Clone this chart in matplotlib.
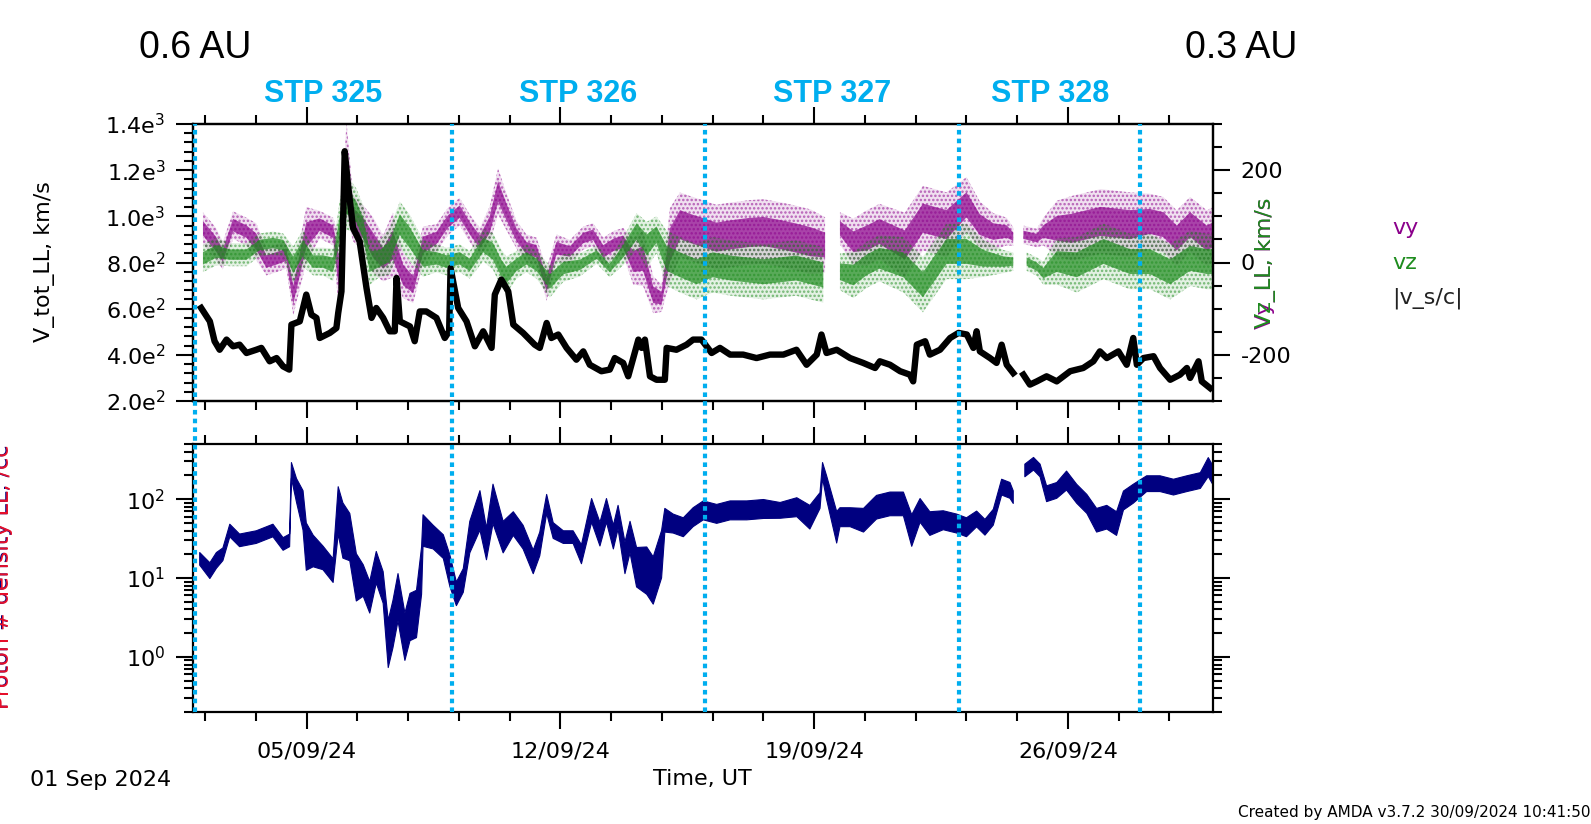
import numpy as np
import matplotlib
matplotlib.use('Agg')
import matplotlib.pyplot as plt
from matplotlib.ticker import FixedLocator, MultipleLocator, FuncFormatter, LogLocator, NullFormatter

# time axis: fractional day of September 2024
t_start, t_stop = 1.865, 30.0
stp_edges = [1.92, 9.0, 16.0, 23.0, 28.0]
stp_names = ['STP 325', 'STP 326', 'STP 327', 'STP 328']
date_ticks = [5, 12, 19, 26]

# |v_s/c| total speed, km/s (left axis)
vtot_day = [2.09, 2.33, 2.46, 2.60, 2.79, 2.97, 3.15, 3.34, 3.61, 3.75, 3.98, 4.17, 4.35, 4.52,
            4.58, 4.81, 4.99, 5.13, 5.27, 5.36, 5.64, 5.82, 5.87, 5.96, 6.05, 6.14, 6.28, 6.46,
            6.65, 6.79, 6.92, 7.11, 7.29, 7.43, 7.48, 7.57, 7.85, 7.98, 8.12, 8.30, 8.58, 8.81,
            8.93, 8.97, 9.18, 9.41, 9.64, 9.87, 10.10, 10.19, 10.37, 10.56, 10.70, 10.97, 11.29,
            11.43, 11.62, 11.75, 11.94, 12.17, 12.44, 12.63, 12.81, 13.13, 13.36, 13.50, 13.73,
            13.87, 14.01, 14.15, 14.24, 14.33, 14.47, 14.65, 14.88, 14.93, 15.20, 15.48, 15.66,
            15.89, 16.17, 16.40, 16.68, 17.04, 17.41, 17.78, 18.15, 18.51, 18.79, 19.07, 19.20,
            19.34, 19.62, 19.99, 20.35, 20.68, 20.81, 21.09, 21.37, 21.64, 21.73, 21.83, 22.06,
            22.19, 22.47, 22.75, 22.98, 23.21, 23.39, 23.48, 23.57, 23.85, 24.03, 24.17, 24.31,
            24.49, 24.60, 24.77, 24.95, 25.14, 25.41, 25.69, 26.06, 26.42, 26.70, 26.88, 27.07,
            27.39, 27.62, 27.80, 27.90, 28.08, 28.36, 28.54, 28.82, 29.09, 29.28, 29.37, 29.60,
            29.69, 29.92]
vtot = [603, 545, 459, 422, 466, 437, 444, 408, 422, 430, 372, 386, 350, 336,
        531, 545, 661, 574, 560, 473, 495, 516, 581, 675, 1282, 1137, 949, 892,
        690, 560, 603, 560, 502, 502, 733, 545, 523, 459, 588, 588, 560, 473,
        502, 776, 603, 545, 437, 502, 430, 661, 726, 675, 531, 495, 444,
        430, 538, 473, 488, 430, 379, 415, 357, 329, 336, 386, 365,
        307, 386, 466, 430, 466, 307, 292, 292, 430, 422, 444, 466,
        466, 408, 430, 401, 401, 386, 401, 401, 422, 357, 401, 488,
        408, 422, 386, 365, 343, 372, 357, 329, 314, 285, 444, 459,
        401, 422, 473, 495, 488, 430, 502, 415, 386, 365, 444, 357,
        321, np.nan, 314, 271, 285, 307, 285, 329, 343, 372, 415, 386,
        415, 357, 473, 357, 386, 394, 343, 292, 314, 343, 300, 372,
        285, 256]

# vy: centre and half spread, km/s (right axis)
vy_day = [2.14, 2.50, 2.69, 2.97, 3.34, 3.61, 3.89, 4.17, 4.44, 4.63, 4.99, 5.36, 5.73, 5.91,
          6.10, 6.28, 6.56, 6.83, 7.11, 7.38, 7.66, 7.94, 8.21, 8.58, 8.90, 9.22, 9.50, 9.78,
          10.05, 10.28, 10.51, 10.79, 11.06, 11.34, 11.62, 11.89, 12.26, 12.63, 12.90, 13.18,
          13.46, 13.73, 14.01, 14.28, 14.56, 14.79, 15.02, 15.30, 15.57, 15.85, 16.3, 16.7,
          17.2, 17.6, 18.1, 18.5, 18.9, 19.3, 19.45, 19.71, 20.08, 20.45, 20.8, 21.5, 22.0,
          22.65, 23.2, 23.57, 23.94, 24.31, 24.49, 24.6, 24.77, 25.14, 25.32, 25.7, 26.1,
          26.9, 27.7, 28.26, 28.63, 29.0, 29.37, 29.83, 30.0]
vy = [74, 40, 15, 81, 67, 45, 2, 9, 17, -70, 60, 82, 67, -34,
      204, 96, 74, 38, 9, 38, -27, -48, 38, 53, 89, 110, 74, 45,
      82, 154, 110, 60, 31, 24, -48, 31, 24, 53, 60, 24,
      38, 45, 2, 9, -70, -77, 38, 82, 74, 67, 55, 60,
      65, 67, 60, 53, 45, 38, np.nan, 74, 45, 53, 67, 38, 96,
      82, 125, 82, 67, 67, 56, np.nan, 60, 53, 67, 74, 74,
      89, 82, 89, 82, 53, 82, 53, 60]
vy_w = [35, 35, 30, 30, 30, 40, 30, 30, 30, 45, 60, 30, 30, 90,
        100, 50, 50, 60, 50, 70, 50, 40, 40, 30, 30, 30, 30, 30,
        40, 50, 40, 30, 30, 30, 35, 30, 25, 25, 25, 30,
        30, 30, 50, 60, 40, 30, 80, 70, 70, 70, 70, 70,
        70, 70, 70, 70, 70, 60, np.nan, 35, 50, 60, 60, 70, 70,
        70, 60, 50, 40, 30, 20, np.nan, 20, 20, 30, 60, 70,
        70, 70, 60, 60, 60, 60, 60, 60]

# vz: centre and half spread, km/s (right axis)
vz_day = [2.14, 2.51, 2.88, 3.34, 3.70, 4.07, 4.35, 4.63, 4.90, 5.18, 5.45, 5.73, 5.91, 6.10,
          6.37, 6.56, 6.74, 7.02, 7.29, 7.57, 7.85, 8.21, 8.58, 8.86, 9.22, 9.50, 9.87, 10.14,
          10.37, 10.51, 10.79, 11.06, 11.34, 11.71, 12.08, 12.54, 13.0, 13.36, 13.73, 14.10,
          14.38, 14.65, 14.93, 15.30, 15.76, 16.2, 16.7, 17.6, 18.5, 19.25, 19.45, 19.71,
          20.08, 20.45, 20.8, 21.46, 22.0, 22.65, 23.2, 23.67, 24.22, 24.49, 24.6, 24.86,
          25.14, 25.32, 25.69, 26.24, 26.98, 27.71, 28.26, 28.82, 29.37, 29.83, 30.0]
vz = [9, 24, 17, 17, 38, 42, 38, -5, 31, 2, 2, -5, 74, 132,
      110, 74, 2, 9, 24, 82, 53, 9, 9, 2, 9, -5, 38, 24,
      -12, -27, -5, 9, -5, -41, -12, -5, 17, -12, 24, 67,
      38, 60, 9, -5, -20, -5, -12, -20, -12, -27, np.nan, -20,
      -27, -5, 9, -5, -48, 24, 24, 9, 2, 2, np.nan, 2,
      -9, -23, 2, -5, 24, 2, 2, -20, 9, 2, 2]
vz_w = [30, 30, 25, 25, 25, 25, 25, 40, 40, 30, 30, 35, 60, 60,
        50, 50, 50, 40, 50, 50, 50, 40, 30, 30, 30, 30, 35, 40,
        40, 40, 30, 30, 30, 35, 30, 25, 20, 20, 30, 40,
        50, 40, 60, 60, 60, 60, 60, 60, 60, 60, np.nan, 40,
        50, 50, 50, 60, 60, 60, 60, 40, 25, 20, np.nan, 20,
        20, 25, 50, 60, 60, 60, 60, 60, 60, 60, 60]

# proton density, /cc, with half spread in decades
dens_day = [2.05, 2.33, 2.51, 2.69, 2.88, 3.15, 3.61, 4.07, 4.35, 4.53, 4.58, 4.72, 4.90, 4.99,
            5.18, 5.45, 5.73, 5.87, 6.00, 6.19, 6.37, 6.56, 6.74, 6.92, 7.11, 7.25, 7.38, 7.52,
            7.71, 7.85, 8.03, 8.17, 8.21, 8.49, 8.77, 8.95, 9.13, 9.32, 9.50, 9.78, 9.96, 10.14,
            10.42, 10.70, 10.97, 11.25, 11.43, 11.62, 11.80, 12.08, 12.35, 12.58, 12.86, 13.09,
            13.27, 13.46, 13.59, 13.78, 13.92, 14.10, 14.38, 14.56, 14.79, 14.88, 15.11, 15.39,
            15.66, 15.94, 16.31, 16.68, 17.14, 17.60, 18.06, 18.52, 18.88, 19.16, 19.23, 19.34,
            19.62, 19.71, 19.99, 20.36, 20.63, 20.72, 21.09, 21.46, 21.69, 21.92, 22.19, 22.56,
            22.93, 23.2, 23.48, 23.71, 23.94, 24.17, 24.40, 24.49, 24.6, 24.81, 25.05, 25.23,
            25.41, 25.69, 25.96, 26.24, 26.52, 26.79, 27.07, 27.34, 27.53, 27.80, 28.17, 28.54,
            28.91, 29.28, 29.65, 29.87, 30.0]
dens = [17.5, 12.4, 16.7, 20, 40, 30, 33, 40, 27, 30, 231, 129, 72, 25,
        22, 18, 12.4, 72, 40, 33, 10.2, 9.3, 5.7, 13.7, 7.6, 1.46, 2.6, 5.7,
        1.8, 3.2, 3.5, 12.4, 40, 33, 25, 12.4, 6.3, 9.3, 33, 72, 27, 87,
        33, 49, 33, 16, 27, 87, 40, 33, 33, 20, 72, 36,
        72, 33, 59, 18, 33, 13.7, 12.4, 9.3, 20, 54, 49, 44,
        59, 72, 65, 72, 72, 75, 72, 79, 59, 96, 231, 141,
        44, 59, 59, 54, 72, 79, 87, 87, 40, 72, 49, 54,
        49, 44, 56, 44, 59, 142, 129, 106, np.nan, 231, 281, 231,
        117, 129, 172, 117, 87, 54, 59, 49, 96, 117, 157, 157,
        142, 157, 172, 255, 200]
dens_w = [0.08, 0.1, 0.1, 0.08, 0.08, 0.08, 0.08, 0.08, 0.08, 0.08, 0.1, 0.15, 0.25, 0.3,
          0.2, 0.15, 0.15, 0.3, 0.35, 0.3, 0.3, 0.2, 0.2, 0.2, 0.2, 0.3, 0.3, 0.3,
          0.3, 0.3, 0.3, 0.3, 0.2, 0.15, 0.15, 0.2, 0.15, 0.15, 0.2, 0.25, 0.2, 0.25,
          0.2, 0.15, 0.15, 0.15, 0.15, 0.12, 0.1, 0.08, 0.08, 0.12, 0.15, 0.15,
          0.15, 0.15, 0.15, 0.2, 0.2, 0.25, 0.3, 0.3, 0.3, 0.15, 0.12, 0.12,
          0.12, 0.12, 0.12, 0.12, 0.12, 0.12, 0.1, 0.12, 0.15, 0.1, 0.1, 0.15,
          0.2, 0.12, 0.12, 0.15, 0.15, 0.15, 0.15, 0.15, 0.2, 0.15, 0.15, 0.12,
          0.12, 0.12, 0.1, 0.1, 0.1, 0.1, 0.1, 0.08, np.nan, 0.08, 0.08, 0.08,
          0.1, 0.1, 0.12, 0.12, 0.12, 0.15, 0.15, 0.15, 0.12, 0.12, 0.1, 0.1,
          0.1, 0.1, 0.1, 0.12, 0.12]

W, H = 1591, 824
purple = '#8B008B'
green = '#1E8C1E'
navy = '#000080'
cyan = '#00AEEF'

plt.rcParams['font.family'] = ['DejaVu Sans']
plt.rcParams['axes.unicode_minus'] = False
plt.rcParams['hatch.linewidth'] = 1.2
fig = plt.figure(figsize=(W / 100, H / 100), dpi=100)


def px_box(l, t, r, b):
    return [l / W, 1 - b / H, (r - l) / W, (b - t) / H]


def fx(x):
    return x / W


def fy(y):
    return 1 - y / H


def style_axis(ax):
    for s in ax.spines.values():
        s.set_linewidth(1.6)
    ax.tick_params(which='major', direction='out', length=12, width=1.5, labelsize=16, pad=8)
    ax.tick_params(which='minor', direction='out', length=6.5, width=1.5)


def set_time_axis(ax, labels):
    ax.set_xlim(t_start, t_stop)
    ax.xaxis.set_major_locator(FixedLocator(date_ticks))
    ax.xaxis.set_minor_locator(FixedLocator(np.arange(0.8, 30.0, 1.4)))
    ax.xaxis.set_major_formatter(FuncFormatter(lambda v, p: '%02d/09/24' % int(round(v))))
    ax.tick_params(axis='x', which='both', top=True, bottom=True, labelbottom=labels)


def sci_label(v, p):
    if v <= 0:
        return ''
    e = int(np.floor(np.log10(v) + 1e-9))
    return '%.1fe$^{%d}$' % (v / 10 ** e, e)


def band(ax, d, c, w, color):
    # speckled halo + dense core, like the scattered samples
    d = np.array(d, float)
    c = np.array(c, float)
    w = np.array(w, float)
    ax.fill_between(d, c - w, c + w, facecolor='none', edgecolor=color, hatch='....',
                    lw=0, alpha=0.55)
    ax.fill_between(d, c - w, c + w, color=color, alpha=0.12, lw=0)
    ax.fill_between(d, c - 0.45 * w, c + 0.45 * w, color=color, alpha=0.7, lw=0)


# ---- top panel: speeds
ax1 = fig.add_axes(px_box(193, 124, 1213, 401))
ax1r = ax1.twinx()
ax1.set_zorder(ax1r.get_zorder() + 1)
ax1.patch.set_visible(False)

band(ax1r, vy_day, vy, vy_w, purple)
band(ax1r, vz_day, vz, vz_w, green)
ax1.plot(vtot_day, vtot, color='black', lw=4.6)

ax1.set_ylim(200, 1400)
ax1.yaxis.set_major_locator(MultipleLocator(200))
ax1.yaxis.set_minor_locator(MultipleLocator(40))
ax1.yaxis.set_major_formatter(FuncFormatter(sci_label))
ax1r.set_ylim(-300, 300)
ax1r.yaxis.set_major_locator(FixedLocator([-200, 0, 200]))
ax1r.yaxis.set_minor_locator(MultipleLocator(50))
for a in (ax1, ax1r):
    style_axis(a)
set_time_axis(ax1, False)
ax1.tick_params(axis='y', which='both', right=False)
ax1r.tick_params(axis='x', which='both', top=False, bottom=False, labelbottom=False)

# ---- bottom panel: density
ax2 = fig.add_axes(px_box(193, 444, 1213, 712))
ax2.set_zorder(ax1.get_zorder() + 1)
dd = np.array(dens_day, float)
dn = np.array(dens, float)
dw = np.array(dens_w, float)
ax2.fill_between(dd, dn * 10 ** (-dw), dn * 10 ** dw, color=navy, lw=0.8, edgecolor=navy)
ax2.set_yscale('log')
ax2.set_ylim(0.2, 500)
ax2.yaxis.set_major_locator(LogLocator(base=10, numticks=10))
ax2.yaxis.set_minor_locator(LogLocator(base=10, subs=np.arange(2, 10), numticks=10))
ax2.yaxis.set_minor_formatter(NullFormatter())
style_axis(ax2)
set_time_axis(ax2, True)
ax2.tick_params(axis='y', which='both', left=True, right=True)
ax2.tick_params(axis='x', which='major', pad=9)

# STP boundaries running through both panels
span = (712 - 124) / (712 - 444)
for d in stp_edges:
    ax2.axvline(d, ymin=0, ymax=span, color=cyan, lw=3, ls=(0, (1.1, 1.0)),
                clip_on=False, zorder=10)
for name, a, b in zip(stp_names, stp_edges[:-1], stp_edges[1:]):
    ax1.text((a + b) / 2, (401 - 94) / 277, name, transform=ax1.get_xaxis_transform(),
             ha='center', va='center', color=cyan, fontsize=22, fontweight='bold',
             family='Liberation Sans')

# ---- labels
fig.text(fx(139), fy(58), '0.6 AU', fontsize=27, family='Liberation Sans', va='baseline')
fig.text(fx(1297), fy(58), '0.3 AU', fontsize=27, family='Liberation Sans', va='baseline', ha='right')
fig.text(fx(45), fy(262), 'V_tot_LL, km/s', rotation=90, ha='center', va='center', fontsize=16)
fig.text(fx(1266), fy(263), 'Vy_LL, km/s', rotation=90, ha='center', va='center', fontsize=16,
         color=purple)
fig.text(fx(1266), fy(263), 'Vz_LL, km/s', rotation=90, ha='center', va='center', fontsize=16,
         color=green)
fig.text(fx(1392), fy(228), 'vy', color=purple, fontsize=16, va='center')
fig.text(fx(1392), fy(263), 'vz', color=green, fontsize=16, va='center')
fig.text(fx(1392), fy(298), '|v_s/c|', color='#222222', fontsize=16, va='center')
# the reference clips this label at the left edge
fig.text(fx(12), fy(577), 'Proton # density LL, /cc', rotation=90, ha='right', va='center',
         fontsize=16, color=navy)
fig.text(fx(13), fy(577), 'Proton # density LL, /cc', rotation=90, ha='right', va='center',
         fontsize=16, color='#E8102A')
fig.text(fx(702), fy(779), 'Time, UT', ha='center', va='center', fontsize=16)
fig.text(fx(30), fy(780), '01 Sep 2024', ha='left', va='center', fontsize=16)
fig.text(fx(1591), fy(812), 'Created by AMDA v3.7.2 30/09/2024 10:41:50', ha='right',
         va='center', fontsize=11)

fig.savefig('out.png', dpi=100)
